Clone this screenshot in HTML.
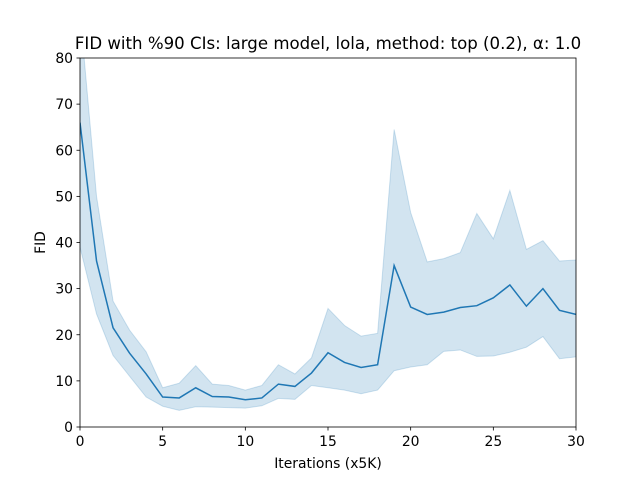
<!DOCTYPE html>
<html><head><meta charset="utf-8"><style>
html,body{margin:0;padding:0;background:#fff;}
svg{display:block;font-family:"DejaVu Sans","Liberation Sans",sans-serif;}
</style></head><body>
<svg id="chart" width="640" height="480" xmlns="http://www.w3.org/2000/svg">
<defs><clipPath id="clip"><rect x="80" y="58" width="496" height="369"/></clipPath></defs>
<rect width="640" height="480" fill="#fff"/>
<g id="plot" clip-path="url(#clip)"></g>
<g id="axes"></g>
<text x="328" y="49" font-size="16.6" text-anchor="middle">FID with %90 CIs: large model, lola, method: top (0.2), α: 1.0</text>
<text x="328" y="468" font-size="13.9" text-anchor="middle">Iterations (x5K)</text>
<text x="45" y="242.5" font-size="13.9" text-anchor="middle" transform="rotate(-90 45 242.5)">FID</text>
</svg>
<script>
const iters=[0,1,2,3,4,5,6,7,8,9,10,11,12,13,14,15,16,17,18,19,20,21,22,23,24,25,26,27,28,29,30];
const meanFid=[66,36,21.5,16,11.5,6.5,6.3,8.5,6.6,6.5,5.9,6.3,9.3,8.8,11.7,16.1,14,12.9,13.5,35,26,24.4,24.9,25.9,26.3,28,30.8,26.2,30,25.3,24.4];
const upperCi=[90,50,27.3,21,16.3,8.5,9.5,13.3,9.3,9,8,9,13.5,11.5,15,25.7,22,19.7,20.3,64.5,46.5,35.8,36.5,37.8,46.3,40.8,51.3,38.5,40.4,36,36.2];
const lowerCi=[39,24.5,15.5,11,6.5,4.5,3.6,4.4,4.3,4.2,4.1,4.6,6.2,6,9,8.5,8,7.2,8,12.2,13,13.5,16.4,16.7,15.3,15.4,16.2,17.3,19.6,14.8,15.2];
const xTicks=[0,5,10,15,20,25,30];
const yTicks=[0,10,20,30,40,50,60,70,80];
const X0=80,X1=576,Y0=427,Y1=58;
const sx=v=>X0+(v-0)/30*(X1-X0);
const sy=v=>Y0-(v-0)/80*(Y0-Y1);
const NS="http://www.w3.org/2000/svg";
const plot=document.getElementById('plot'),axes=document.getElementById('axes');
function mk(tag,attrs,parent){const e=document.createElementNS(NS,tag);for(const k in attrs)e.setAttribute(k,attrs[k]);parent.appendChild(e);return e;}
let d='';
iters.forEach((x,i)=>{d+=(i?'L':'M')+sx(x)+','+sy(upperCi[i]);});
for(let i=iters.length-1;i>=0;i--)d+='L'+sx(iters[i])+','+sy(lowerCi[i]);
const band=mk('path',{d:d+'Z',fill:'#1f77b4','fill-opacity':0.2,stroke:'#1f77b4','stroke-opacity':0.2},plot);


const line=mk('polyline',{points:iters.map((x,i)=>sx(x)+','+sy(meanFid[i])).join(' '),fill:'none',stroke:'#1f77b4','stroke-width':1.5},plot);


const frame=mk('rect',{x:X0,y:Y1,width:X1-X0,height:Y0-Y1,fill:'none',stroke:'#000','stroke-width':0.8},axes);


xTicks.forEach(t=>{
  mk('line',{x1:sx(t),x2:sx(t),y1:Y0,y2:Y0+3.5,stroke:'#000','stroke-width':0.8},axes);
  const tx=mk('text',{x:sx(t),y:Y0+19,'font-size':13.9,'text-anchor':'middle'},axes);
  tx.textContent=t;
  
  
});
yTicks.forEach(t=>{
  mk('line',{x1:X0-3.5,x2:X0,y1:sy(t),y2:sy(t),stroke:'#000','stroke-width':0.8},axes);
  const tx=mk('text',{x:X0-7,y:sy(t)+5,'font-size':13.9,'text-anchor':'end'},axes);
  tx.textContent=t;
  
  
});
</script>
</body></html>
